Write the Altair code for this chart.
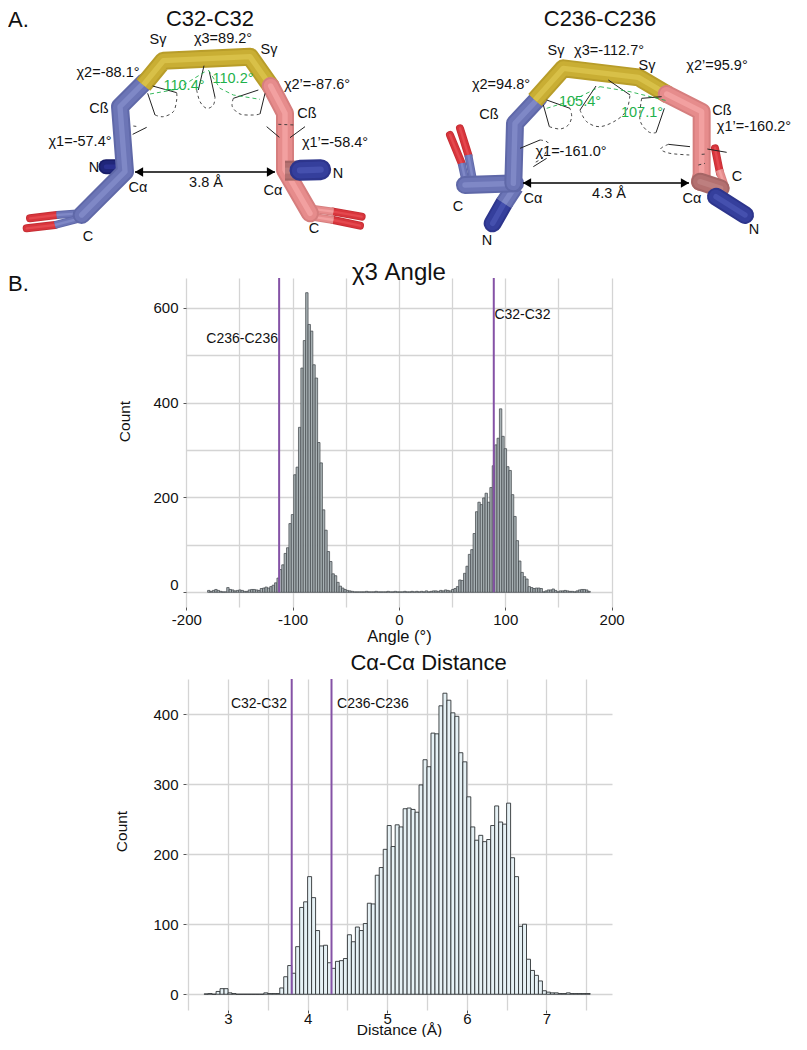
import altair as alt
import pandas as pd

FONT = "Liberation Sans"

# ---------- histogram data ----------
ANGLE_START = -180.0
ANGLE_BIN = 2.25
angle_counts = [
    4, 2, 4, 6, 4, 2, 1, 1, 10, 6, 5, 3, 4, 5, 4, 2, 2, 5, 6, 6,
    5, 4, 8, 9, 11, 9, 12, 15, 20, 30, 48, 58, 82, 94, 145, 164, 248, 264, 348, 473,
    531, 632, 565, 551, 480, 452, 316, 273, 174, 131, 86, 65, 39, 35, 21, 13, 9, 6, 4, 3,
    2, 1, 1, 1, 1, 1, 2, 1, 1, 1, 2, 1, 1, 1, 1, 2, 1, 1, 2, 1,
    1, 1, 2, 1, 1, 2, 1, 2, 1, 2, 1, 3, 1, 2, 3, 3, 2, 4, 3, 5,
    4, 3, 6, 8, 12, 26, 25, 40, 55, 80, 90, 124, 170, 190, 185, 199, 209, 190, 221, 267,
    311, 325, 387, 329, 303, 265, 257, 206, 160, 109, 66, 42, 33, 28, 12, 10, 8, 9, 9, 8,
    1, 3, 5, 5, 7, 4, 1, 3, 3, 4, 3, 2, 2, 1, 3, 5, 6, 6, 5, 2,
]
DIST_START = 2.7
DIST_BIN = 0.05
dist_counts = [
    0.5, 1, 0, 4, 8, 8, 2, 1, 0, 0, 0, 0, 0, 0, 0, 2, 1, 1, 1, 9,
    25, 41, 30, 68, 124, 132, 168, 138, 91, 69, 70, 45, 37, 47, 48, 51, 85, 75, 96, 91,
    101, 130, 129, 170, 181, 207, 241, 211, 242, 239, 265, 266, 264, 260, 299, 335, 325, 373, 372, 412,
    430, 420, 402, 397, 345, 332, 282, 239, 220, 227, 218, 221, 241, 269, 246, 243, 273, 195, 168, 97,
    100, 50, 34, 27, 19, 5, 3, 2, 2, 1, 1, 2, 1, 1, 1, 1, 1,
]
angle_markers = [-112.7, 89.2]
dist_markers = [3.8, 4.3]

angle_x_grid = [-200, -150, -100, -50, 0, 50, 100, 150, 200]
angle_y_grid = [0, 100, 200, 300, 400, 500, 600]
dist_x_grid = [2.5, 3, 3.5, 4, 4.5, 5, 5.5, 6, 6.5, 7, 7.5]
dist_y_grid = [0, 50, 100, 150, 200, 250, 300, 350, 400, 450]

# ---------- molecule drawing: sticks as (colour set, width, cap, polyline), in 3x crop units ----------
BLUE = ("#5f68a8", "#6c75b6", "#7f88c6")
PINK = ("#d67e7e", "#e68c8c", "#f2a0a0")
DPINK = ("#a56565", "#b37070", "#bd7f7f")
YEL = ("#b89d2a", "#c9ae34", "#d8c048")
RED = ("#c42e34", "#d8353c", "#e4484e")
NAVY = ("#181d68", "#20267a", "#2a3090")
NBLUE = ("#2d358c", "#353f9c", "#4550ae")

left_sticks = [
    (RED, 8, "round", [(90, 655), (170, 645)]),
    (RED, 8, "round", [(80, 685), (165, 675)]),
    (BLUE, 8, "butt", [(170, 645), (240, 640)]),
    (BLUE, 8, "butt", [(165, 675), (240, 655)]),
    (NAVY, 15, "round", [(318, 500), (350, 500)]),
    (BLUE, 18, "round", [(245, 645), (375, 515), (360, 320), (435, 245)]),
    (YEL, 18, "butt", [(430, 255), (490, 182), (750, 170), (815, 262)]),
    (RED, 8, "round", [(1000, 635), (1085, 650)]),
    (RED, 8, "round", [(1000, 660), (1080, 677)]),
    (PINK, 8, "butt", [(925, 625), (1000, 635)]),
    (PINK, 8, "butt", [(935, 650), (1000, 660)]),
    (PINK, 18, "round", [(812, 258), (855, 340), (855, 510), (930, 640)]),
    (DPINK, 20, "butt", [(855, 512), (900, 512)]),
    (NBLUE, 21, "round", [(900, 511), (962, 509)]),
]

right_sticks = [
    (RED, 8, "round", [(150, 405), (185, 490)]),
    (RED, 8, "round", [(180, 385), (205, 465)]),
    (BLUE, 8, "butt", [(185, 490), (197, 545)]),
    (BLUE, 8, "butt", [(205, 465), (218, 535)]),
    (NBLUE, 18, "round", [(278, 670), (312, 610)]),
    (BLUE, 18, "butt", [(312, 610), (345, 560)]),
    (BLUE, 18, "round", [(195, 555), (345, 550)]),
    (BLUE, 18, "round", [(340, 550), (345, 370), (415, 295)]),
    (YEL, 18, "butt", [(405, 300), (490, 205), (715, 232), (805, 285)]),
    (RED, 8, "round", [(945, 445), (960, 520)]),
    (PINK, 18, "round", [(800, 282), (905, 335), (905, 525), (900, 545)]),
    (PINK, 8, "butt", [(958, 510), (975, 560)]),
    (DPINK, 18, "round", [(900, 545), (962, 565)]),
    (NBLUE, 18, "round", [(948, 590), (1035, 645)]),
]

thin_left = [
    [(458, 258), (530, 278)], [(443, 280), (465, 345)],
    [(612, 197), (595, 270)], [(628, 215), (645, 292)],
    [(775, 270), (700, 295)], [(795, 280), (780, 342)],
    [(398, 403), (440, 382)], [(800, 380), (838, 412)], [(870, 413), (915, 380)],
]
dash_left = [
    [(465, 345), (490, 350), (520, 335), (530, 300), (530, 278)],
    [(590, 270), (600, 305), (620, 325), (640, 315), (645, 292)],
    [(700, 295), (697, 320), (720, 342), (760, 345), (780, 342)],
    [(400, 378), (415, 380)], [(835, 373), (885, 375)],
]
green_left = [
    [(450, 282), (530, 268), (620, 212)],
    [(625, 210), (660, 265), (700, 285), (780, 298)],
]
thin_right = [
    [(440, 300), (510, 325)], [(430, 315), (448, 380)],
    [(588, 258), (540, 330)], [(625, 240), (690, 285)],
    [(725, 295), (785, 290)], [(793, 325), (768, 398)],
    [(360, 445), (420, 420)], [(400, 500), (440, 475)],
    [(805, 433), (870, 440)], [(922, 447), (980, 457)],
]
dash_right = [
    [(448, 380), (480, 387), (505, 375), (515, 350), (510, 325)],
    [(540, 330), (560, 365), (600, 380), (650, 360), (680, 330), (690, 285)],
    [(725, 295), (720, 360), (745, 395), (768, 398)],
    [(420, 420), (445, 430), (430, 470), (400, 490)],
    [(805, 433), (782, 447), (810, 460), (870, 465)],
    [(905, 463), (920, 462)], [(895, 495), (915, 490)],
]
green_right = [
    [(440, 325), (520, 300), (600, 260)],
    [(600, 260), (690, 275), (800, 302)],
]

black_labels = [
    ("C32-C32", 210, 26, 22, "alpha"), ("C236-C236", 600, 26, 22, "alpha"),
    ("Sγ", 158, 40, 14.5, "mid"), ("χ3=89.2°", 223, 39, 14.5, "mid"), ("Sγ", 269, 50, 14.5, "mid"),
    ("χ2=-88.1°", 108, 73, 14.5, "mid"), ("χ2’=-87.6°", 317, 85, 14.5, "mid"),
    ("Cß", 99, 109, 14.5, "mid"), ("Cß", 307, 114, 14.5, "mid"),
    ("χ1=-57.4°", 80, 142, 14.5, "mid"), ("χ1’=-58.4°", 335, 143, 14.5, "mid"),
    ("N", 94, 168, 14.5, "mid"), ("N", 338, 174, 14.5, "mid"),
    ("Cα", 138, 188, 14.5, "mid"), ("Cα", 273, 191, 14.5, "mid"),
    ("3.8 Å", 206, 183, 14.5, "mid"), ("C", 88, 237, 14.5, "mid"), ("C", 314, 229, 14.5, "mid"),
    ("Sγ", 556, 51, 14.5, "mid"), ("χ3=-112.7°", 609, 51, 14.5, "mid"), ("Sγ", 647, 66, 14.5, "mid"),
    ("χ2’=95.9°", 717, 66, 14.5, "mid"), ("χ2=94.8°", 501, 85, 14.5, "mid"),
    ("Cß", 489, 115, 14.5, "mid"), ("Cß", 722, 111, 14.5, "mid"),
    ("χ1’=-160.2°", 754, 127, 14.5, "mid"), ("χ1=-161.0°", 571, 152, 14.5, "mid"),
    ("C", 737, 177, 14.5, "mid"), ("Cα", 533, 199, 14.5, "mid"), ("Cα", 692, 199, 14.5, "mid"),
    ("4.3 Å", 609, 194, 14.5, "mid"), ("C", 458, 207, 14.5, "mid"),
    ("N", 487, 241, 14.5, "mid"), ("N", 754, 230, 14.5, "mid"),
]
green_labels = [
    ("110.4°", 184, 86), ("110.2°", 233, 79), ("105.4°", 580, 102), ("107.1°", 642, 113),
]
panel_letters = [("A.", 8, 20), ("B.", 8, 284)]
arrows = [((135, 172), (275, 172), "3.8"), ((523, 183), (689, 183), "4.3")]

# ---------- scales of the drawing panel: page pixels ----------
PAGE_X = alt.Scale(domain=[186, 612])
PAGE_Y = alt.Scale(domain=[206, 8])
X = alt.X("x:Q", scale=PAGE_X, axis=None)
Y = alt.Y("y:Q", scale=PAGE_Y, axis=None)


def to_page(pts, ox):
    return [{"x": ox + px / 3, "y": py / 3, "i": k} for k, (px, py) in enumerate(pts)]


def stick_layers(sticks, ox):
    out = []
    for cols, w, cap, pts in sticks:
        d = alt.Data(values=to_page(pts, ox))
        for c, sw in zip(cols, (w, w * 0.78, w * 0.3)):
            out.append(
                alt.Chart(d).mark_line(color=c, strokeWidth=sw, strokeCap=cap, strokeJoin="round")
                .encode(x=X, y=Y, order="i:Q")
            )
    return out


def group_rows(groups, ox):
    rows = []
    for g, pts in enumerate(groups):
        for r in to_page(pts, ox):
            r["g"] = g
            rows.append(r)
    return rows


def line_layer(rows, **mark):
    return alt.Chart(alt.Data(values=rows)).mark_line(**mark).encode(
        x=X, y=Y, order="i:Q", detail="g:N"
    )


layers = stick_layers(left_sticks, 0) + stick_layers(right_sticks, 400)
thin_rows = group_rows(thin_left, 0)
thin_rows += [dict(r, g=r["g"] + 100) for r in group_rows(thin_right, 400)]
dash_rows = group_rows(dash_left, 0)
dash_rows += [dict(r, g=r["g"] + 100) for r in group_rows(dash_right, 400)]
green_rows = group_rows(green_left, 0)
green_rows += [dict(r, g=r["g"] + 100) for r in group_rows(green_right, 400)]
layers.append(line_layer(thin_rows, color="#222222", strokeWidth=1))
layers.append(line_layer(dash_rows, color="#333333", strokeWidth=0.9, strokeDash=[3, 3], interpolate="cardinal"))
layers.append(line_layer(green_rows, color="#22b24c", strokeWidth=0.9, strokeDash=[4, 3]))

arrow_rows, tip_l, tip_r = [], [], []
for a, b, name in arrows:
    arrow_rows += [{"x": a[0], "y": a[1], "i": 0, "g": name}, {"x": b[0], "y": b[1], "i": 1, "g": name}]
    tip_l.append({"x": a[0] + 4, "y": a[1]})
    tip_r.append({"x": b[0] - 4, "y": b[1]})
layers.append(line_layer(arrow_rows, color="#000000", strokeWidth=1.6))
layers.append(alt.Chart(alt.Data(values=tip_l)).mark_point(shape="triangle-left", filled=True, color="#000000", size=90, opacity=1).encode(x=X, y=Y))
layers.append(alt.Chart(alt.Data(values=tip_r)).mark_point(shape="triangle-right", filled=True, color="#000000", size=90, opacity=1).encode(x=X, y=Y))

mid = pd.DataFrame([dict(t=t, x=x, y=y, s=s) for t, x, y, s, b in black_labels if b == "mid"])
alpha = pd.DataFrame([dict(t=t, x=x, y=y, s=s) for t, x, y, s, b in black_labels if b == "alpha"])
for df, base in ((mid, "middle"), (alpha, "alphabetic")):
    layers.append(
        alt.Chart(df).mark_text(font=FONT, baseline=base, align="center", color="#111111")
        .encode(x=X, y=Y, text="t:N", size=alt.Size("s:Q", scale=None, legend=None))
    )
layers.append(
    alt.Chart(pd.DataFrame(green_labels, columns=["t", "x", "y"]))
    .mark_text(font=FONT, fontSize=14.5, color="#1fb14b", align="center", baseline="middle")
    .encode(x=X, y=Y, text="t:N")
)
layers.append(
    alt.Chart(pd.DataFrame(panel_letters, columns=["t", "x", "y"]))
    .mark_text(font=FONT, fontSize=22, color="#111111", align="left", baseline="middle")
    .encode(x=X, y=Y, text="t:N")
)
top = alt.layer(*layers).properties(width=426, height=198)


# ---------- histograms ----------
def histogram(counts, start, step, markers, xgrid, ygrid, xdom, ydom, xlab, ylab, xmajor, ymajor,
              height, title, title_x, title_y, title_size, marker_labels, fill, stroke, sw, ty, tx, x_title_y,
              lab_pad, x_title_size, y_offset_expr=None):
    hist = pd.DataFrame(
        {"x0": [start + step * i for i in range(len(counts))],
         "x1": [start + step * (i + 1) for i in range(len(counts))],
         "n": counts}
    )
    grid = dict(grid=True, gridColor="#d4d4d4", gridWidth=1.3, domain=False, tickSize=3, labelOverlap=False,
                labelFlush=False, labelBound=False,
                labelFontSize=15, labelColor="#111111", titleFontSize=x_title_size, titleColor="#111111",
                titleFontWeight="normal", labelFont=FONT, titleFont=FONT)
    x_axis = alt.Axis(
        values=xgrid, title=xlab, labelPadding=lab_pad, titleY=x_title_y, titleBaseline="middle",
        labelExpr=f"(datum.value % {xmajor} === 0) ? '' + datum.value : ''",
        tickColor={"condition": {"test": f"datum.value % {xmajor} === 0", "value": "#555555"}, "value": "transparent"},
        **grid,
    )
    y_kw = dict(grid)
    y_kw["titleFontSize"] = 15.5
    if y_offset_expr:
        y_kw["labelOffset"] = y_offset_expr
    y_axis = alt.Axis(
        values=ygrid, title=ylab, labelPadding=5, titleX=tx, titleY=ty,
        labelExpr=f"(datum.value % {ymajor} === 0) ? '' + datum.value : ''",
        tickColor={"condition": {"test": f"datum.value % {ymajor} === 0", "value": "#555555"}, "value": "transparent"},
        **y_kw,
    )
    xs = alt.Scale(domain=xdom, nice=False, zero=False)
    ys = alt.Scale(domain=ydom, nice=False, zero=False)
    bars = alt.Chart(hist).mark_bar(fill=fill, stroke=stroke, strokeWidth=sw, opacity=1).encode(
        x=alt.X("x0:Q", scale=xs, axis=x_axis), x2="x1:Q",
        y=alt.Y("n:Q", scale=ys, axis=y_axis), y2=alt.datum(0),
    )
    rules = alt.Chart(pd.DataFrame({"m": markers, "lo": [0] * len(markers), "hi": [ydom[1]] * len(markers)})).mark_rule(
        color="#8552a6", strokeWidth=2
    ).encode(x=alt.X("m:Q", scale=xs), y=alt.Y("hi:Q", scale=ys), y2="lo:Q")
    txt = []
    for label, lx, ly, al in marker_labels:
        txt.append(
            alt.Chart(pd.DataFrame({"t": [label], "lx": [lx], "ly": [ly]}))
            .mark_text(font=FONT, fontSize=14, color="#111111", align=al, baseline="middle")
            .encode(x=alt.X("lx:Q", scale=xs), y=alt.Y("ly:Q", scale=ys), text="t:N")
        )
    head = alt.Chart(pd.DataFrame({"t": [title], "lx": [title_x], "ly": [title_y]})).mark_text(
        font=FONT, fontSize=title_size, color="#111111", align="center", baseline="middle"
    ).encode(x=alt.X("lx:Q", scale=xs), y=alt.Y("ly:Q", scale=ys), text="t:N")
    return alt.layer(bars, rules, *txt, head).properties(width=426, height=height)


h1 = histogram(
    angle_counts, ANGLE_START, ANGLE_BIN, angle_markers, angle_x_grid, angle_y_grid,
    [-200.3, 200.4], [-31, 663], "Angle (°)", "Count", 100, 200, 329, "χ3 Angle", 0, 674, 24,
    [("C236-C236", -113.8, 535, "right"), ("C32-C32", 89.8, 584, "left")],
    "#a8b1b4", "#454b4f", 0.75, 143, -54, 29, 2, 16.5,
    y_offset_expr={"condition": {"test": "datum.value === 0", "value": -8}, "value": 0},
)
h2 = histogram(
    dist_counts, DIST_START, DIST_BIN, dist_markers, dist_x_grid, dist_y_grid,
    [2.472, 7.824], [-22.5, 450.3], "Distance (Å)", "Count", 1, 100, 331, "Cα-Cα Distance", 5.52, 473, 22,
    [("C32-C32", 3.74, 414, "right"), ("C236-C236", 4.37, 414, "left")],
    "#e6f1f5", "#2f3336", 0.9, 152, -57, 19, -2, 15.5,
)

chart = (
    alt.vconcat(top, h1, h2, spacing=72, bounds="flush", padding={"left": 0, "top": 0, "right": 0, "bottom": -1})
    .properties(background="white")
    .configure_view(strokeWidth=0)
)
chart.save("out.html", embed_options={"renderer": "svg", "actions": False})
